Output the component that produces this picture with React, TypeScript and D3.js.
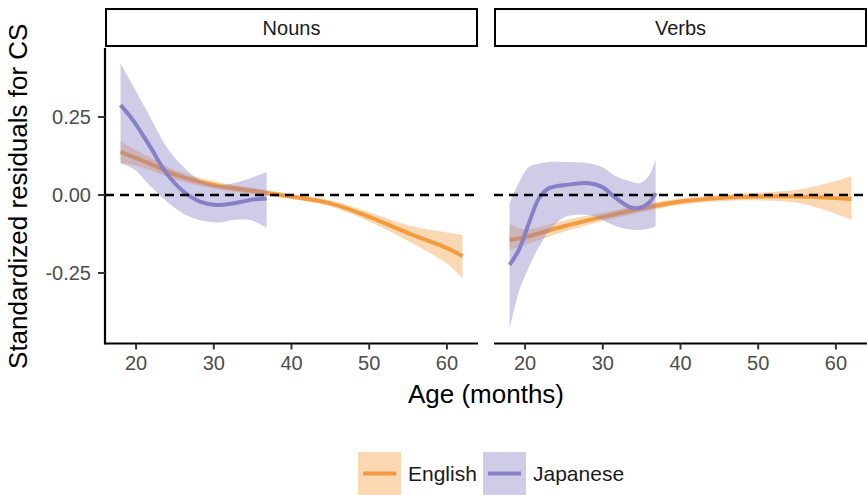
import React from "react";
import * as d3 from "d3";

// ---- data ----
const panels = ["Nouns", "Verbs"];
const languages = ["English", "Japanese"];
const xTicks = [20, 30, 40, 50, 60];
const yTicks = [-0.25, 0, 0.25];
const yTickLabels = ["-0.25", "0.00", "0.25"];

const nounsEnglishAge = [18, 20, 22, 25, 30, 35, 40, 45, 50, 55, 60, 62];
const nounsEnglishFit = [0.138, 0.118, 0.098, 0.065, 0.032, 0.013, -0.005, -0.027, -0.07, -0.122, -0.17, -0.196];
const nounsEnglishLo = [0.103, 0.093, 0.078, 0.05, 0.02, 0.003, -0.013, -0.037, -0.085, -0.147, -0.22, -0.266];
const nounsEnglishHi = [0.173, 0.143, 0.118, 0.08, 0.044, 0.023, 0.003, -0.017, -0.055, -0.097, -0.12, -0.128];

const nounsJapaneseAge = [18, 19.6, 21.8, 23.9, 26.1, 28.2, 30.4, 32.5, 34.7, 36.8];
const nounsJapaneseFit = [0.288, 0.24, 0.155, 0.07, 0.011, -0.021, -0.032, -0.027, -0.016, -0.011];
const nounsJapaneseLo = [0.1, 0.085, 0.03, -0.02, -0.06, -0.08, -0.088, -0.08, -0.08, -0.105];
const nounsJapaneseHi = [0.422, 0.35, 0.25, 0.155, 0.09, 0.048, 0.032, 0.038, 0.054, 0.074];

const verbsEnglishAge = [18, 20, 25, 30, 35, 40, 45, 50, 55, 60, 62];
const verbsEnglishFit = [-0.144, -0.135, -0.1, -0.07, -0.043, -0.021, -0.01, -0.005, -0.005, -0.01, -0.013];
const verbsEnglishLo = [-0.176, -0.16, -0.118, -0.083, -0.055, -0.031, -0.02, -0.017, -0.025, -0.06, -0.08];
const verbsEnglishHi = [-0.093, -0.11, -0.082, -0.057, -0.031, -0.011, 0, 0.007, 0.017, 0.045, 0.061];

const verbsJapaneseAge = [18, 19.2, 20.5, 21.8, 23.1, 25.2, 28.2, 29.9, 31.7, 33.4, 34.7, 35.9, 36.8];
const verbsJapaneseFit = [-0.224, -0.176, -0.09, -0.01, 0.022, 0.032, 0.038, 0.026, -0.01, -0.038, -0.042, -0.026, 0.006];
const verbsJapaneseLo = [-0.43, -0.31, -0.23, -0.166, -0.115, -0.07, -0.064, -0.08, -0.1, -0.11, -0.112, -0.108, -0.1];
const verbsJapaneseHi = [-0.026, 0.04, 0.09, 0.1, 0.106, 0.106, 0.102, 0.09, 0.06, 0.045, 0.038, 0.06, 0.112];

const colors: Record<string, string> = { English: "#F59B3F", Japanese: "#8680C6" };

type Series = { lang: string; age: number[]; fit: number[]; lo: number[]; hi: number[] };
const seriesByPanel: Record<string, Series[]> = {
  Nouns: [
    { lang: "English", age: nounsEnglishAge, fit: nounsEnglishFit, lo: nounsEnglishLo, hi: nounsEnglishHi },
    { lang: "Japanese", age: nounsJapaneseAge, fit: nounsJapaneseFit, lo: nounsJapaneseLo, hi: nounsJapaneseHi },
  ],
  Verbs: [
    { lang: "English", age: verbsEnglishAge, fit: verbsEnglishFit, lo: verbsEnglishLo, hi: verbsEnglishHi },
    { lang: "Japanese", age: verbsJapaneseAge, fit: verbsJapaneseFit, lo: verbsJapaneseLo, hi: verbsJapaneseHi },
  ],
};

const FONT = "'Liberation Sans', Arial, Helvetica, sans-serif";

export default function App() {
  const W = 867, H = 495;
  const panelX = [[105, 478], [494, 867]];
  const top = 50, bottom = 342.5;
  const y = d3.scaleLinear().domain([-0.4726, 0.4646]).range([bottom, top]);

  return (
    <svg width={W} height={H} style={{ position: "absolute", left: 0, top: 0, background: "#fff" }} fontFamily={FONT}>
      {panels.map((p, pi) => {
        const [x0, x1] = panelX[pi];
        const x = d3.scaleLinear().domain([16.0, 64.0]).range([x0, x1]);
        const area = d3.area<number>()
          .x((_, i) => 0)
          .curve(d3.curveCatmullRom);
        return (
          <g key={p}>
            {/* strip */}
            <rect x={x0 + 1} y={9} width={x1 - x0 - 2} height={37} fill="#fff" stroke="#000" strokeWidth={2} />
            <text x={(x0 + x1) / 2} y={35} textAnchor="middle" fontSize={20} fill="#1A1A1A">{p}</text>
            <defs>
              <clipPath id={`clip${pi}`}><rect x={x0} y={top - 2} width={x1 - x0} height={bottom - top + 4} /></clipPath>
            </defs>
            <g clipPath={`url(#clip${pi})`}>
              {seriesByPanel[p].map((s) => {
                const idx = s.age.map((_, i) => i);
                const ar = d3.area<number>()
                  .x((i) => x(s.age[i]))
                  .y0((i) => y(s.lo[i]))
                  .y1((i) => y(s.hi[i]))
                  .curve(d3.curveCatmullRom)(idx) as string;
                const ln = d3.line<number>()
                  .x((i) => x(s.age[i]))
                  .y((i) => y(s.fit[i]))
                  .curve(d3.curveCatmullRom)(idx) as string;
                return (
                  <g key={s.lang}>
                    <path d={ar} fill={colors[s.lang]} fillOpacity={0.4} stroke="none" />
                    <path d={ln} fill="none" stroke={colors[s.lang]} strokeWidth={4} />
                  </g>
                );
              })}
            </g>
            {/* dashed zero line */}
            <line x1={x0} x2={x1} y1={y(0)} y2={y(0)} stroke="#000" strokeWidth={2.5} strokeDasharray="9 6" />
            {/* x axis */}
            <line x1={x0} x2={x1} y1={bottom + 1} y2={bottom + 1} stroke="#000" strokeWidth={2.2} />
            {xTicks.map((t) => (
              <g key={t}>
                <line x1={x(t)} x2={x(t)} y1={bottom + 1} y2={bottom + 7} stroke="#333" strokeWidth={2} />
                <text x={x(t)} y={370} textAnchor="middle" fontSize={20} fill="#4D4D4D">{t}</text>
              </g>
            ))}
            {pi === 0 && (
              <g>
                <line x1={x0} x2={x0} y1={top - 2} y2={bottom + 2} stroke="#000" strokeWidth={2.2} />
                {yTicks.map((t, i) => (
                  <g key={t}>
                    <line x1={x0 - 7} x2={x0} y1={y(t)} y2={y(t)} stroke="#333" strokeWidth={2} />
                    <text x={91} y={y(t) + 7} textAnchor="end" fontSize={20} fill="#4D4D4D">{yTickLabels[i]}</text>
                  </g>
                ))}
              </g>
            )}
          </g>
        );
      })}
      {/* axis titles */}
      <text x={486} y={403} textAnchor="middle" fontSize={26} fill="#000">Age (months)</text>
      <text transform={`translate(27,${(top + bottom) / 2}) rotate(-90)`} textAnchor="middle" fontSize={26} fill="#000">
        Standardized residuals for CS
      </text>
      {/* legend */}
      {languages.map((l, i) => {
        const kx = i === 0 ? 358 : 483;
        return (
          <g key={l}>
            <rect x={kx} y={452} width={43} height={43} fill={colors[l]} fillOpacity={0.4} />
            <line x1={kx + 5} x2={kx + 38} y1={473.5} y2={473.5} stroke={colors[l]} strokeWidth={4} />
            <text x={kx + 50} y={480.5} fontSize={21} fill="#1A1A1A">{l}</text>
          </g>
        );
      })}
    </svg>
  );
}
